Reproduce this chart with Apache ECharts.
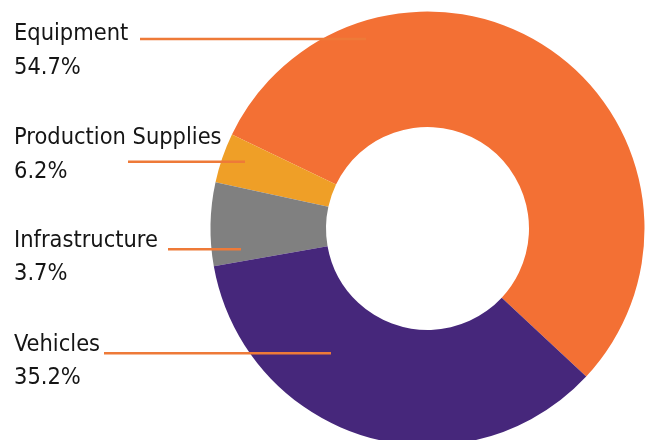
<!DOCTYPE html>
<html>
<head>
<meta charset="utf-8">
<script src="https://cdn.jsdelivr.net/npm/echarts@6/dist/echarts.min.js"></script>
<style>
html,body{margin:0;padding:0;background:#fff;}
#chart{width:646px;height:440px;}
</style>
</head>
<body>
<div id="chart"></div>
<script>
// ---- data ----
const categories = ['Equipment', 'Production Supplies', 'Infrastructure', 'Vehicles'];
const percentLabels = ['54.7%', '6.2%', '3.7%', '35.2%'];
// slice sizes as drawn in the picture (upper small slice is the smaller one)
const sliceValues = [54.7, 3.7, 6.2, 35.2];

// ---- style / layout ----
const sliceColors = ['#F37034', '#EF9F27', '#808080', '#46277B'];
const lineColor = '#EE7A38';
const textColor = '#151515';
const FONT = '23.4px "DejaVu Sans Condensed", "DejaVu Sans", sans-serif';
const labelX = 14;
const nameY = [34, 138, 240.5, 344.5];
const pctGap = 33.7;
const leaders = [[140, 366, 39], [128, 245, 161.7], [168, 241, 249.3], [104, 331, 353.3]];

const chart = echarts.init(document.getElementById('chart'), null, {renderer: 'canvas'});

const graphics = [];
categories.forEach((name, i) => {
  graphics.push({
    type: 'text', z: 10,
    style: {text: name, x: labelX, y: nameY[i], font: FONT, fill: textColor, verticalAlign: 'middle', align: 'left'}
  });
  graphics.push({
    type: 'text', z: 10,
    style: {text: percentLabels[i], x: labelX, y: nameY[i] + pctGap, font: FONT, fill: textColor, verticalAlign: 'middle', align: 'left'}
  });
  const L = leaders[i];
  graphics.push({
    type: 'line', z: 10,
    shape: {x1: L[0], y1: L[2], x2: L[1], y2: L[2]},
    style: {stroke: lineColor, lineWidth: 2.5}
  });
});

chart.setOption({
  animation: false,
  backgroundColor: '#fff',
  graphic: graphics,
  series: [{
    type: 'pie',
    center: [427.5, 228.5],
    radius: [101.5, 217],
    startAngle: 317,
    clockwise: false,
    avoidLabelOverlap: false,
    label: {show: false},
    labelLine: {show: false},
    emphasis: {disabled: true},
    itemStyle: {borderWidth: 0},
    data: categories.map((n, i) => ({name: n, value: sliceValues[i], itemStyle: {color: sliceColors[i]}}))
  }]
});
</script>
</body>
</html>
